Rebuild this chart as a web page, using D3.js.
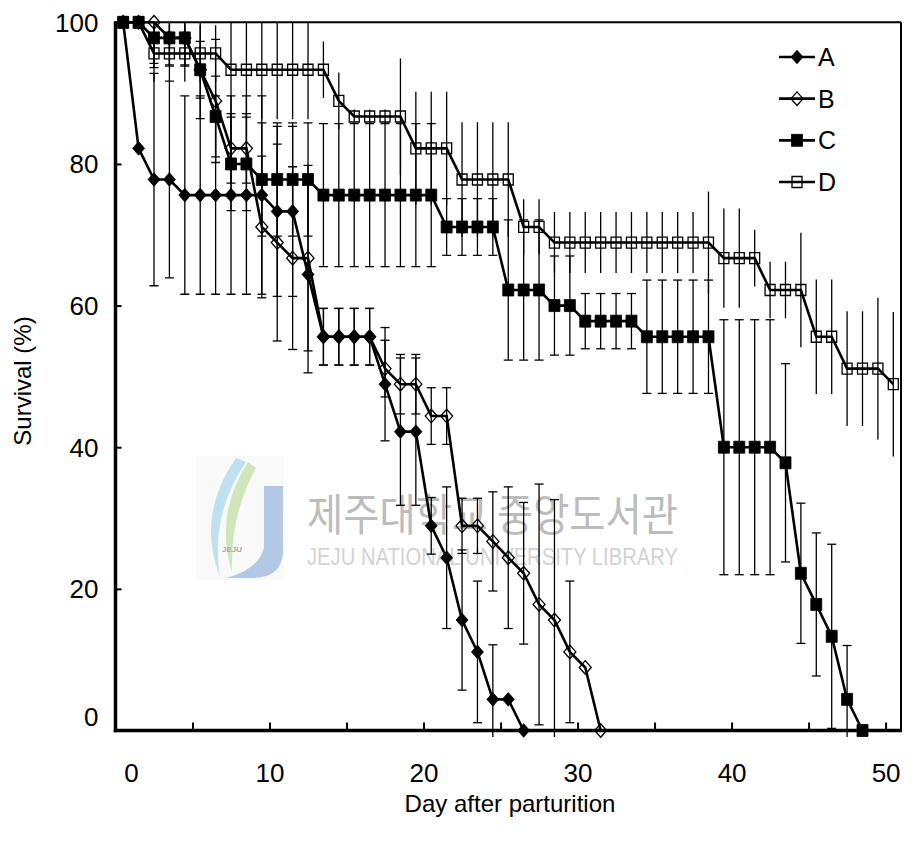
<!DOCTYPE html>
<html><head><meta charset="utf-8">
<script src="https://cdn.jsdelivr.net/npm/d3@7/dist/d3.min.js"></script>
<style>
body{margin:0;background:#fff;}
svg{display:block;font-family:"Liberation Sans",Arial,sans-serif;}
</style>
</head><body>
<svg id="chart" width="912" height="847"></svg>
<script>
// ---------------- data ----------------
const seriesNames = ["A", "B", "C", "D"];

const daysA   = [0,1,2,3,4,5,6,7,8,9,10,11,12,13,14,15,16,17,18,19,20,21,22,23,24,25,26];
const valuesA = [100,82.2,77.8,77.8,75.6,75.6,75.6,75.6,75.6,75.6,73.3,73.3,64.4,55.6,55.6,55.6,55.6,48.9,42.2,42.2,28.9,24.4,15.6,11.1,4.4,4.4,0];
const errorsA = [0,0,15,13.9,14,14,14,14,14,14,12,12,13.9,4,4,4,4,8,10.4,10.4,4,10,9.9,10,7.7,0,0];

const daysB   = [0,1,2,3,4,5,6,7,8,9,10,11,12,13,14,15,16,17,18,19,20,21,22,23,24,25,26,27,28,29,30,31];
const valuesB = [100,100,100,97.8,97.8,93.3,88.9,82.2,82.2,71.1,68.9,66.7,66.7,55.6,55.6,55.6,55.6,51.1,48.9,48.9,44.4,44.4,28.9,28.9,26.7,24.4,22.2,17.8,15.6,11.1,8.9,0];
const errorsB = [0,0,5.8,4,4,4,8.7,4.9,4.9,10,13.9,12.9,13.1,4,4,4,4,4,4.2,4.2,4,4,3.9,3.9,7,10,10,17,17,10,0,0];

const daysC   = [0,1,2,3,4,5,6,7,8,9,10,11,12,13,14,15,16,17,18,19,20,21,22,23,24,25,26,27,28,29,30,31,32,33,34,35,36,37,38,39,40,41,42,43,44,45,46,47,48];
const valuesC = [100,100,97.8,97.8,97.8,93.3,86.7,80,80,77.8,77.8,77.8,77.8,75.6,75.6,75.6,75.6,75.6,75.6,75.6,75.6,71.1,71.1,71.1,71.1,62.2,62.2,62.2,60,60,57.8,57.8,57.8,57.8,55.6,55.6,55.6,55.6,55.6,40,40,40,40,37.8,22.2,17.8,13.3,4.4,0];
const errorsC = [0,0,4.2,3.8,3.8,6.9,5.7,6.6,6.6,8,8,8,8,10.1,10.1,10.1,10.1,10.1,10.1,10.1,10.1,4,4,4,4,9.9,9.9,9.9,7,7,3.9,3.9,3.9,3.9,8,8,8,8,8,18,18,18,18,14,9.9,10.1,13,7.6,0];

const daysD   = [0,1,2,3,4,5,6,7,8,9,10,11,12,13,14,15,16,17,18,19,20,21,22,23,24,25,26,27,28,29,30,31,32,33,34,35,36,37,38,39,40,41,42,43,44,45,46,47,48,49,50];
const valuesD = [100,100,95.6,95.6,95.6,95.6,95.6,93.3,93.3,93.3,93.3,93.3,93.3,93.3,88.9,86.7,86.7,86.7,86.7,82.2,82.2,82.2,77.8,77.8,77.8,77.8,71.1,71.1,68.9,68.9,68.9,68.9,68.9,68.9,68.9,68.9,68.9,68.9,68.9,66.7,66.7,66.7,62.2,62.2,62.2,55.6,55.6,51.1,51.1,51.1,48.9];
const errorsD = [0,0,4,4,4,4,4,7,7,7,7,7,7,4,4,1,1,1,8.2,8,8,8,8.1,8.1,8.1,8.1,3.9,3.9,4.3,4.3,4.3,4.3,4.3,4.3,4.3,4.3,4.3,4.3,7.2,7,7,4,4,4,8.1,8.1,8.1,8.1,8.1,10,10.2];

const yTickValues   = [0, 20, 40, 60, 80, 100];
const xTickLabels   = [0, 10, 20, 30, 40, 50];
const xTickBoundary = [5, 10, 15, 20, 25, 30, 35, 40, 45, 50];

const xTitle = "Day after parturition";
const yTitle = "Survival (%)";

// ---------------- layout ----------------
const svg = d3.select("#chart");
const P = {left: 115.5, right: 901, top: 22.3, bottom: 730.5};

const x = d3.scaleLinear().domain([-0.5, 50.5]).range([P.left, P.right]);
const y = d3.scaleLinear().domain([0, 100]).range([P.bottom, P.top]);

const series = [
  {name: "A", days: daysA, values: valuesA, errors: errorsA, marker: "diamond", fill: "#000", caps: true},
  {name: "B", days: daysB, values: valuesB, errors: errorsB, marker: "diamond", fill: "none", caps: true},
  {name: "C", days: daysC, values: valuesC, errors: errorsC, marker: "square", fill: "#000", caps: true},
  {name: "D", days: daysD, values: valuesD, errors: errorsD, marker: "square", fill: "none", caps: false}
];

function markerPath(kind, filled) {
  if (kind === "diamond") return "M0,-6.8L6,0L0,6.8L-6,0Z";
  if (filled) return "M-5.5,-6L5.5,-6L5.5,6L-5.5,6Z";
  return "M-5,-5.5L5,-5.5L5,5.5L-5,5.5Z";
}

// ---------------- watermark ----------------
const wm = svg.append("g").attr("class", "watermark");
wm.append("rect").attr("x", 196).attr("y", 456).attr("width", 88).attr("height", 124).attr("fill", "#f9f9f9");
wm.append("path").attr("d", "M236,458 Q196,515 220,577 Q210,515 246,462 Z").attr("fill", "#bfe0ef");
wm.append("path").attr("d", "M248,462 Q214,515 232,572 Q230,515 256,468 Z").attr("fill", "#cfe5bb");
wm.append("path").attr("d", "M264,486 L283,486 L283,550 Q283,578 252,578 L226,578 Q258,570 264,548 Z").attr("fill", "#b3c8e6");
wm.append("text").attr("x", 232).attr("y", 552).attr("text-anchor", "middle").attr("font-size", 8).attr("font-weight", "bold").attr("fill", "#a8a8a8").text("JEJU");
wm.append("text").attr("x", 307).attr("y", 531).attr("font-family", "'Noto Sans CJK KR', sans-serif").attr("font-size", 44)
  .attr("textLength", 371).attr("lengthAdjust", "spacingAndGlyphs").attr("fill", "#bcbcbc").text("제주대학교 중앙도서관");
wm.append("text").attr("x", 307).attr("y", 565).attr("font-size", 24)
  .attr("textLength", 371).attr("lengthAdjust", "spacingAndGlyphs").attr("fill", "#d2d2d2").text("JEJU NATIONAL UNIVERSITY  LIBRARY");

// ---------------- clip (error bars only) ----------------
svg.append("clipPath").attr("id", "plotclip").append("rect")
  .attr("x", P.left - 10).attr("y", P.top).attr("width", P.right - P.left + 20).attr("height", P.bottom - P.top + 6.5);

// ---------------- series ----------------
const gBars = svg.append("g").attr("clip-path", "url(#plotclip)");
const gData = svg.append("g");
const line = d3.line().x(d => x(d.day)).y(d => y(d.v));

series.forEach(s => {
  const pts = s.days.map((d, i) => ({day: d, v: s.values[i], e: s.errors[i]}));
  const eb = gBars.append("g").attr("stroke", "#000").attr("stroke-width", 1.3);
  pts.filter(p => p.e > 0).forEach(p => {
    const cx = x(p.day), y1 = y(p.v + p.e), y2 = y(p.v - p.e);
    eb.append("line").attr("x1", cx).attr("x2", cx).attr("y1", y1).attr("y2", y2);
    if (s.caps) {
      eb.append("line").attr("x1", cx - 4.5).attr("x2", cx + 4.5).attr("y1", y1).attr("y2", y1);
      eb.append("line").attr("x1", cx - 4.5).attr("x2", cx + 4.5).attr("y1", y2).attr("y2", y2);
    }
  });
});

series.forEach(s => {
  const pts = s.days.map((d, i) => ({day: d, v: s.values[i]}));
  const g = gData.append("g").attr("class", "series-" + s.name);
  g.append("path").datum(pts).attr("d", line).attr("fill", "none").attr("stroke", "#000").attr("stroke-width", 2.6);
  g.selectAll("path.m").data(pts).join("path").attr("class", "m")
    .attr("transform", p => `translate(${x(p.day)},${y(p.v)})`)
    .attr("d", markerPath(s.marker, s.fill !== "none"))
    .attr("fill", s.fill).attr("stroke", "#000").attr("stroke-width", s.fill === "none" ? 1.3 : 0.8);
});

// ---------------- frame ----------------
svg.append("line").attr("x1", P.left).attr("x2", P.right).attr("y1", P.top).attr("y2", P.top).attr("stroke", "#000").attr("stroke-width", 2);
svg.append("line").attr("x1", P.right).attr("x2", P.right).attr("y1", P.top).attr("y2", P.bottom).attr("stroke", "#000").attr("stroke-width", 2);

// ---------------- axes ----------------
const yAxis = d3.axisLeft(y).tickValues(yTickValues).tickSizeInner(-6).tickSizeOuter(0).tickPadding(17);
const gy = svg.append("g").attr("transform", `translate(${P.left},0)`).call(yAxis);
gy.select(".domain").attr("stroke-width", 3.5).attr("d", `M0,${P.top - 1}V${P.bottom + 1.7}`);
gy.selectAll(".tick line").attr("stroke-width", 2);
gy.selectAll(".tick text").attr("font-size", 26).attr("font-family", "'Liberation Sans', Arial, sans-serif").attr("fill", "#000")
  .attr("dy", d => d === 0 ? "-0.2em" : "0.34em");

const xAxisTicks = d3.axisBottom(x).tickValues(xTickBoundary.map(b => b - 0.5)).tickSizeInner(-8).tickSizeOuter(0).tickFormat("");
const gx = svg.append("g").attr("transform", `translate(0,${P.bottom})`).call(xAxisTicks);
gx.select(".domain").attr("stroke-width", 3.5).attr("d", `M${P.left - 1.7},0H${P.right + 1}`);
gx.selectAll(".tick line").attr("stroke-width", 2);

const xAxisLabels = d3.axisBottom(x).tickValues(xTickLabels.map(v => v === 0 ? 0.5 : v - 0.5))
  .tickFormat((p, i) => xTickLabels[i]).tickSize(0).tickPadding(33);
const gxl = svg.append("g").attr("transform", `translate(0,${P.bottom})`).call(xAxisLabels);
gxl.select(".domain").remove();
gxl.selectAll(".tick text").attr("font-size", 26).attr("font-family", "'Liberation Sans', Arial, sans-serif").attr("fill", "#000");

// titles
svg.append("text").attr("x", 510).attr("y", 812).attr("text-anchor", "middle").attr("font-size", 24).text(xTitle);
svg.append("text").attr("transform", "translate(31,381) rotate(-90)").attr("text-anchor", "middle").attr("font-size", 24).text(yTitle);

// ---------------- legend ----------------
const legY = d3.scalePoint().domain(seriesNames).range([57, 182]);
const lg = svg.append("g");
series.forEach(s => {
  const gy0 = legY(s.name);
  lg.append("line").attr("x1", 779).attr("x2", 815).attr("y1", gy0).attr("y2", gy0).attr("stroke", "#000").attr("stroke-width", 2.6);
  lg.append("path").attr("transform", `translate(797,${gy0})`).attr("d", markerPath(s.marker, s.fill !== "none"))
    .attr("fill", s.fill).attr("stroke", "#000").attr("stroke-width", s.fill === "none" ? 1.3 : 0.8);
  lg.append("text").attr("x", 818).attr("y", gy0).attr("dy", "0.36em").attr("font-size", 25).text(s.name);
});
</script>
</body></html>
